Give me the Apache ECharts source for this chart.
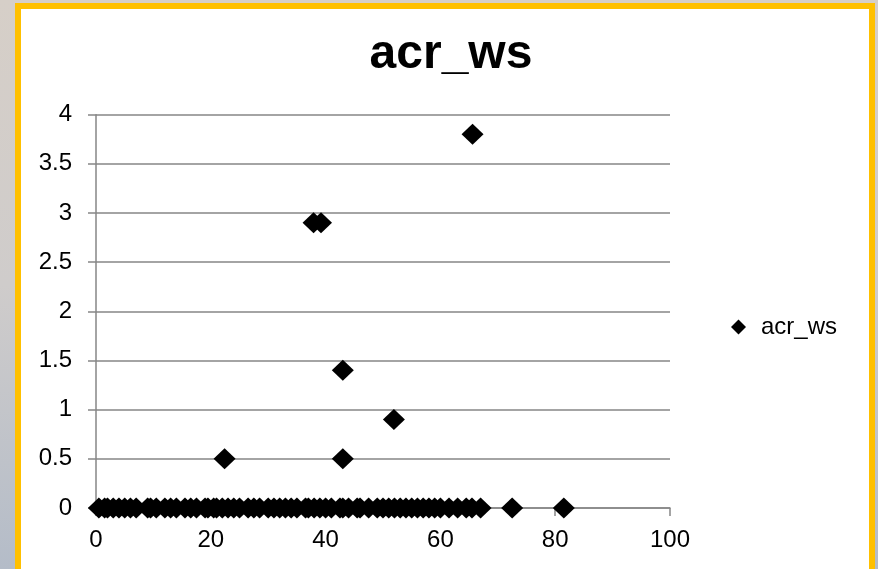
<!DOCTYPE html>
<html>
<head>
<meta charset="utf-8">
<script src="https://cdn.jsdelivr.net/npm/echarts@6/dist/echarts.min.js"></script>
<style>html,body{margin:0;padding:0;}#c{width:878px;height:569px;}</style>
</head>
<body>
<div id="c"></div>
<script>
const seriesName = 'acr_ws';
const xValues = [0.5, 1.5, 2, 3, 4, 5, 6, 7, 9, 9.5, 10.5, 12, 13, 14, 15.5, 16.5, 17.5, 19, 19.5, 20.5, 21, 22, 23, 24, 25, 26.5, 27.5, 28.5, 30, 31, 32, 33, 34, 35, 36.5, 37, 38, 39, 40, 41, 42.5, 43, 44, 45.5, 46, 47.5, 49, 50, 51, 52, 53, 54, 55, 56, 57, 58, 59, 60, 61.5, 63, 64.5, 65.5, 67, 72.5, 81.5,
  22.4, 37.9, 39.2, 43.0, 43.0, 51.9, 65.6];
const yValues = [0, 0, 0, 0, 0, 0, 0, 0, 0, 0, 0, 0, 0, 0, 0, 0, 0, 0, 0, 0, 0, 0, 0, 0, 0, 0, 0, 0, 0, 0, 0, 0, 0, 0, 0, 0, 0, 0, 0, 0, 0, 0, 0, 0, 0, 0, 0, 0, 0, 0, 0, 0, 0, 0, 0, 0, 0, 0, 0, 0, 0, 0, 0, 0, 0,
  0.5, 2.9, 2.9, 1.4, 0.5, 0.9, 3.8];
const xTicks = {min: 0, max: 100, interval: 20};
const yTicks = {min: 0, max: 4, interval: 0.5};

const FONT = '"Liberation Sans", Arial, sans-serif';
const chart = echarts.init(document.getElementById('c'), null, {renderer: 'canvas'});
const points = xValues.map((x, i) => [x, yValues[i]]);
chart.setOption({
  animation: false,
  backgroundColor: {
    type: 'linear', x: 0, y: 0, x2: 0, y2: 1,
    colorStops: [{offset: 0, color: '#d6cfc8'}, {offset: 0.5, color: '#cfcccb'}, {offset: 1, color: '#b4bcc8'}]
  },
  graphic: [{
    type: 'rect', z: -10, silent: true,
    shape: {x: 18, y: 6, width: 854, height: 600},
    style: {fill: '#ffffff', stroke: '#FFC000', lineWidth: 6}
  }],
  title: {
    text: 'acr_ws', left: 451, top: 31, textAlign: 'center', padding: 0,
    textStyle: {fontFamily: FONT, fontSize: 48, fontWeight: 'bold', color: '#000'}
  },
  legend: {
    left: 731, top: 315, padding: 0, icon: 'diamond', itemWidth: 15, itemHeight: 15,
    textStyle: {fontFamily: FONT, fontSize: 24, color: '#000', padding: [0, 0, 0, 10]},
    itemStyle: {opacity: 1},
    data: [seriesName]
  },
  grid: {left: 96, right: 208, top: 114.7, bottom: 61, containLabel: false},
  xAxis: {
    type: 'value', min: xTicks.min, max: xTicks.max, interval: xTicks.interval,
    axisLine: {show: true, onZero: false, lineStyle: {color: '#868686', width: 1.5}},
    axisTick: {show: true, length: 8, inside: false, lineStyle: {color: '#868686', width: 1.5}},
    axisLabel: {fontFamily: FONT, fontSize: 24, color: '#000', margin: 20},
    splitLine: {show: false}
  },
  yAxis: {
    type: 'value', min: yTicks.min, max: yTicks.max, interval: yTicks.interval,
    axisLine: {show: true, lineStyle: {color: '#868686', width: 1.5}},
    axisTick: {show: true, length: 8, inside: false, lineStyle: {color: '#868686', width: 1.5}},
    axisLabel: {fontFamily: FONT, fontSize: 24, color: '#000', margin: 24},
    splitLine: {show: true, lineStyle: {color: '#868686', width: 1.5}}
  },
  series: [{
    name: seriesName, type: 'scatter', symbol: 'diamond', symbolSize: [22, 21],
    itemStyle: {color: '#000', opacity: 1}, data: points, clip: false
  }]
});
</script>
</body>
</html>
